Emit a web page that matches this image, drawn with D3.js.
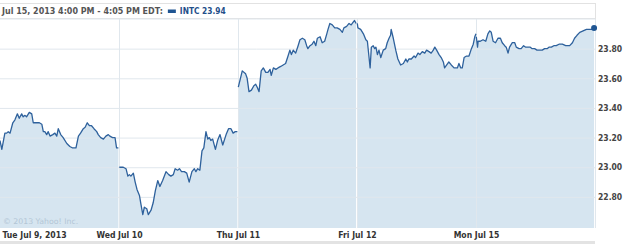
<!DOCTYPE html>
<html>
<head>
<meta charset="utf-8">
<script src="https://cdn.jsdelivr.net/npm/d3@7"></script>
<style>
  body { margin: 0; background: #fff; }
  svg { display: block; }
</style>
</head>
<body>
<div id="chart"></div>
<script>
// INTC, 5-day intraday, minutes after the 9:30 open
const dayLabels = ["Tue Jul 9, 2013", "Wed Jul 10", "Thu Jul 11", "Fri Jul 12", "Mon Jul 15"]
const priceTicks = [22.8, 23.0, 23.2, 23.4, 23.6, 23.8]
const headerText = "Jul 15, 2013 4:00 PM - 4:05 PM EDT:"
const symbol = "INTC"
const lastPrice = 23.94

const tueMinutes = [0, 6, 16, 22, 27, 33, 42, 49, 57, 63, 71, 76, 82, 87, 96, 104, 109, 118, 129, 137, 142, 147, 153, 158, 164, 173, 180, 186, 191, 199, 207, 219, 224, 229, 238, 249, 257, 264, 273, 279, 286, 293, 300, 308, 317, 322, 330, 339, 347, 355, 360, 369, 377, 382, 388]
const tuePrices = [23.18, 23.12, 23.23, 23.23, 23.24, 23.23, 23.30, 23.32, 23.36, 23.33, 23.36, 23.34, 23.35, 23.34, 23.37, 23.36, 23.30, 23.30, 23.30, 23.29, 23.24, 23.24, 23.22, 23.24, 23.21, 23.22, 23.23, 23.21, 23.26, 23.22, 23.20, 23.16, 23.15, 23.14, 23.13, 23.13, 23.21, 23.23, 23.26, 23.27, 23.30, 23.28, 23.28, 23.26, 23.24, 23.22, 23.20, 23.19, 23.21, 23.22, 23.21, 23.20, 23.20, 23.13, 23.13]

const wedMinutes = [1, 14, 23, 29, 34, 39, 47, 53, 59, 67, 72, 78, 83, 91, 96, 105, 112, 119, 127, 134, 143, 154, 163, 170, 178, 184, 192, 198, 205, 214, 222, 230, 239, 247, 252, 258, 265, 272, 278, 285, 291, 296, 301, 307, 316, 323, 331, 340, 351, 359, 367, 374, 381, 388]
const wedPrices = [23.00, 23.00, 22.99, 22.94, 22.95, 22.94, 22.96, 22.90, 22.85, 22.81, 22.75, 22.68, 22.73, 22.72, 22.68, 22.71, 22.76, 22.84, 22.91, 22.87, 22.91, 22.97, 22.95, 22.94, 22.95, 22.99, 22.98, 22.99, 22.97, 22.97, 22.96, 22.90, 22.97, 22.99, 22.97, 22.99, 22.98, 23.11, 23.13, 23.24, 23.19, 23.20, 23.18, 23.19, 23.12, 23.18, 23.22, 23.15, 23.22, 23.26, 23.26, 23.23, 23.24, 23.24]

const thuMinutes = [1, 14, 25, 30, 36, 44, 52, 58, 63, 69, 76, 83, 91, 98, 105, 109, 116, 124, 131, 140, 148, 156, 164, 170, 175, 181, 189, 197, 203, 211, 219, 225, 229, 236, 243, 249, 255, 260, 269, 276, 284, 291, 295, 301, 309, 317, 325, 334, 342, 347, 356, 364, 371, 378, 382, 387]
const thuPrices = [23.54, 23.65, 23.63, 23.60, 23.51, 23.52, 23.55, 23.56, 23.54, 23.51, 23.65, 23.67, 23.64, 23.64, 23.66, 23.62, 23.67, 23.66, 23.67, 23.68, 23.69, 23.70, 23.75, 23.79, 23.76, 23.79, 23.77, 23.82, 23.86, 23.87, 23.86, 23.82, 23.80, 23.82, 23.83, 23.85, 23.82, 23.87, 23.88, 23.84, 23.85, 23.90, 23.93, 23.97, 23.96, 23.94, 23.94, 23.93, 23.91, 23.94, 23.95, 23.97, 23.96, 23.98, 23.99, 23.97]

const friMinutes = [1, 3, 12, 21, 29, 34, 39, 43, 47, 53, 58, 62, 67, 72, 78, 86, 94, 99, 105, 110, 112, 119, 127, 134, 143, 152, 160, 165, 170, 178, 187, 192, 200, 206, 214, 222, 228, 236, 243, 250, 255, 261, 269, 276, 283, 287, 294, 301, 309, 318, 329, 334, 340, 345, 351, 359, 367, 375, 381, 386, 390]
const friPrices = [23.97, 23.94, 23.93, 23.90, 23.86, 23.85, 23.75, 23.67, 23.81, 23.82, 23.80, 23.81, 23.76, 23.79, 23.74, 23.79, 23.80, 23.84, 23.87, 23.89, 23.93, 23.87, 23.79, 23.73, 23.69, 23.70, 23.73, 23.71, 23.73, 23.73, 23.75, 23.74, 23.77, 23.76, 23.78, 23.77, 23.79, 23.78, 23.77, 23.79, 23.81, 23.79, 23.76, 23.74, 23.71, 23.67, 23.69, 23.71, 23.69, 23.67, 23.67, 23.70, 23.67, 23.67, 23.74, 23.75, 23.75, 23.80, 23.83, 23.88, 23.90]

const monMinutes = [1, 5, 7, 14, 23, 32, 39, 45, 50, 56, 64, 72, 80, 86, 94, 99, 105, 110, 119, 127, 132, 141, 148, 156, 163, 170, 178, 184, 192, 200, 209, 217, 225, 233, 239, 247, 255, 263, 272, 283, 294, 307, 316, 323, 331, 340, 351, 362, 373, 381, 387]
const monPrices = [23.88, 23.81, 23.85, 23.85, 23.86, 23.85, 23.90, 23.92, 23.91, 23.85, 23.84, 23.87, 23.87, 23.84, 23.82, 23.81, 23.77, 23.81, 23.84, 23.84, 23.81, 23.80, 23.80, 23.82, 23.81, 23.81, 23.81, 23.80, 23.80, 23.79, 23.79, 23.79, 23.80, 23.80, 23.81, 23.81, 23.82, 23.82, 23.83, 23.83, 23.82, 23.82, 23.84, 23.87, 23.89, 23.91, 23.92, 23.93, 23.93, 23.93, 23.94]

const sessionLen = 390

const days = [
    [tueMinutes, tuePrices],
    [wedMinutes, wedPrices],
    [thuMinutes, thuPrices],
    [friMinutes, friPrices],
    [monMinutes, monPrices]
].map(([mins, prices], i) => mins.map((m, j) => ({ t: i * sessionLen + m, p: prices[j] })))

const W = 625, H = 244
const plotL = 0, plotR = 595, plotT = 19, plotB = 228
const lineColor = "#2e619c", fillColor = "#d6e5f0", gridColor = "#e0e7ed"
const font = "Tahoma, 'DejaVu Sans Condensed', Verdana, sans-serif"

const svg = d3.select("#chart").append("svg")
    .attr("width", W)
    .attr("height", H)
    .style("font-family", font)

const x = d3.scaleLinear().domain([0, dayLabels.length * sessionLen]).range([plotL, plotR])
const y = d3.scaleLinear().domain([22.59, 24.0]).range([plotB, plotT])

// header box
svg.append("rect")
    .attr("x", -1).attr("y", 3.5)
    .attr("width", plotR + 1.5).attr("height", 15)
    .attr("fill", "#fff").attr("stroke", "#e2e2e2")

const header = svg.append("text")
    .attr("x", 2).attr("y", 14)
    .attr("font-size", 8.9).attr("font-weight", "bold")
    .attr("fill", "#555")
    .text(headerText)

const hw = header.node().getComputedTextLength()
svg.append("rect")
    .attr("x", hw + 7).attr("y", 9.5)
    .attr("width", 8).attr("height", 3.5)
    .attr("fill", "#1f5592")
svg.append("text")
    .attr("x", hw + 19).attr("y", 14)
    .attr("font-size", 8.3).attr("font-weight", "bold")
    .attr("fill", "#1f4f8a")
    .text(symbol + " " + d3.format(".2f")(lastPrice))

// fill under each session
const area = d3.area()
    .x(d => x(d.t))
    .y0(plotB)
    .y1(d => y(d.p))

svg.append("g").selectAll("path").data(days)
    .enter().append("path")
    .attr("d", area)
    .attr("fill", fillColor)

// grid on top of the fill
const yGrid = svg.append("g")
    .attr("transform", `translate(${plotR},0)`)
    .call(d3.axisRight(y).tickValues(priceTicks).tickSize(-(plotR - plotL)).tickFormat(""))
yGrid.select(".domain").remove()
yGrid.selectAll("line").attr("stroke", gridColor)

const dayStarts = dayLabels.map((d, i) => i * sessionLen)
const xGrid = svg.append("g")
    .attr("transform", `translate(0,${plotB})`)
    .call(d3.axisBottom(x).tickValues(dayStarts.slice(1)).tickSize(-(plotB - plotT)).tickFormat(""))
xGrid.select(".domain").remove()
xGrid.selectAll("line").attr("stroke", gridColor)

// frame
svg.append("line")
    .attr("x1", plotL).attr("x2", plotR).attr("y1", plotT).attr("y2", plotT)
    .attr("stroke", gridColor)
svg.append("line")
    .attr("x1", plotR + 0.5).attr("x2", plotR + 0.5).attr("y1", plotT).attr("y2", plotB)
    .attr("stroke", gridColor)

svg.append("text")
    .attr("x", 3).attr("y", 224)
    .attr("font-size", 7.8)
    .attr("fill", "#b3c6d6")
    .style("font-family", "'DejaVu Sans', sans-serif")
    .text("\u00a9 2013 Yahoo! Inc.")

// price line, one path per session
const line = d3.line()
    .x(d => x(d.t))
    .y(d => y(d.p))

svg.append("g").selectAll("path").data(days)
    .enter().append("path")
    .attr("d", line)
    .attr("fill", "none")
    .attr("stroke", lineColor)
    .attr("stroke-width", 1.3)
    .attr("stroke-linejoin", "round")

const last = days[days.length - 1][days[days.length - 1].length - 1]
svg.append("circle")
    .attr("cx", x(last.t)).attr("cy", y(last.p))
    .attr("r", 3)
    .attr("fill", "#1f5592")

// axes labels
const yAxis = svg.append("g")
    .attr("transform", `translate(${plotR},0)`)
    .call(d3.axisRight(y).tickValues(priceTicks).tickSize(0).tickPadding(3).tickFormat(d3.format(".2f")))
yAxis.select(".domain").remove()
yAxis.selectAll("text")
    .attr("font-family", font)
    .attr("font-size", 8.5).attr("font-weight", "bold")
    .attr("fill", "#444")

const xAxis = svg.append("g")
    .attr("transform", `translate(0,${plotB})`)
    .call(d3.axisBottom(x).tickValues(dayStarts).tickSize(0).tickPadding(4).tickFormat((d, i) => dayLabels[i]))
xAxis.select(".domain").remove()
xAxis.selectAll("text")
    .attr("font-family", font)
    .attr("font-size", 8.6).attr("font-weight", "bold")
    .attr("fill", "#333")
    .attr("dy", "0.71em")
xAxis.selectAll(".tick").filter((d, i) => i === 0).select("text")
    .attr("text-anchor", "start").attr("x", 2)

// bottom strip
svg.append("rect")
    .attr("x", 0).attr("y", 241)
    .attr("width", plotR).attr("height", 3)
    .attr("fill", "#e3e3e3")
</script>
</body>
</html>
